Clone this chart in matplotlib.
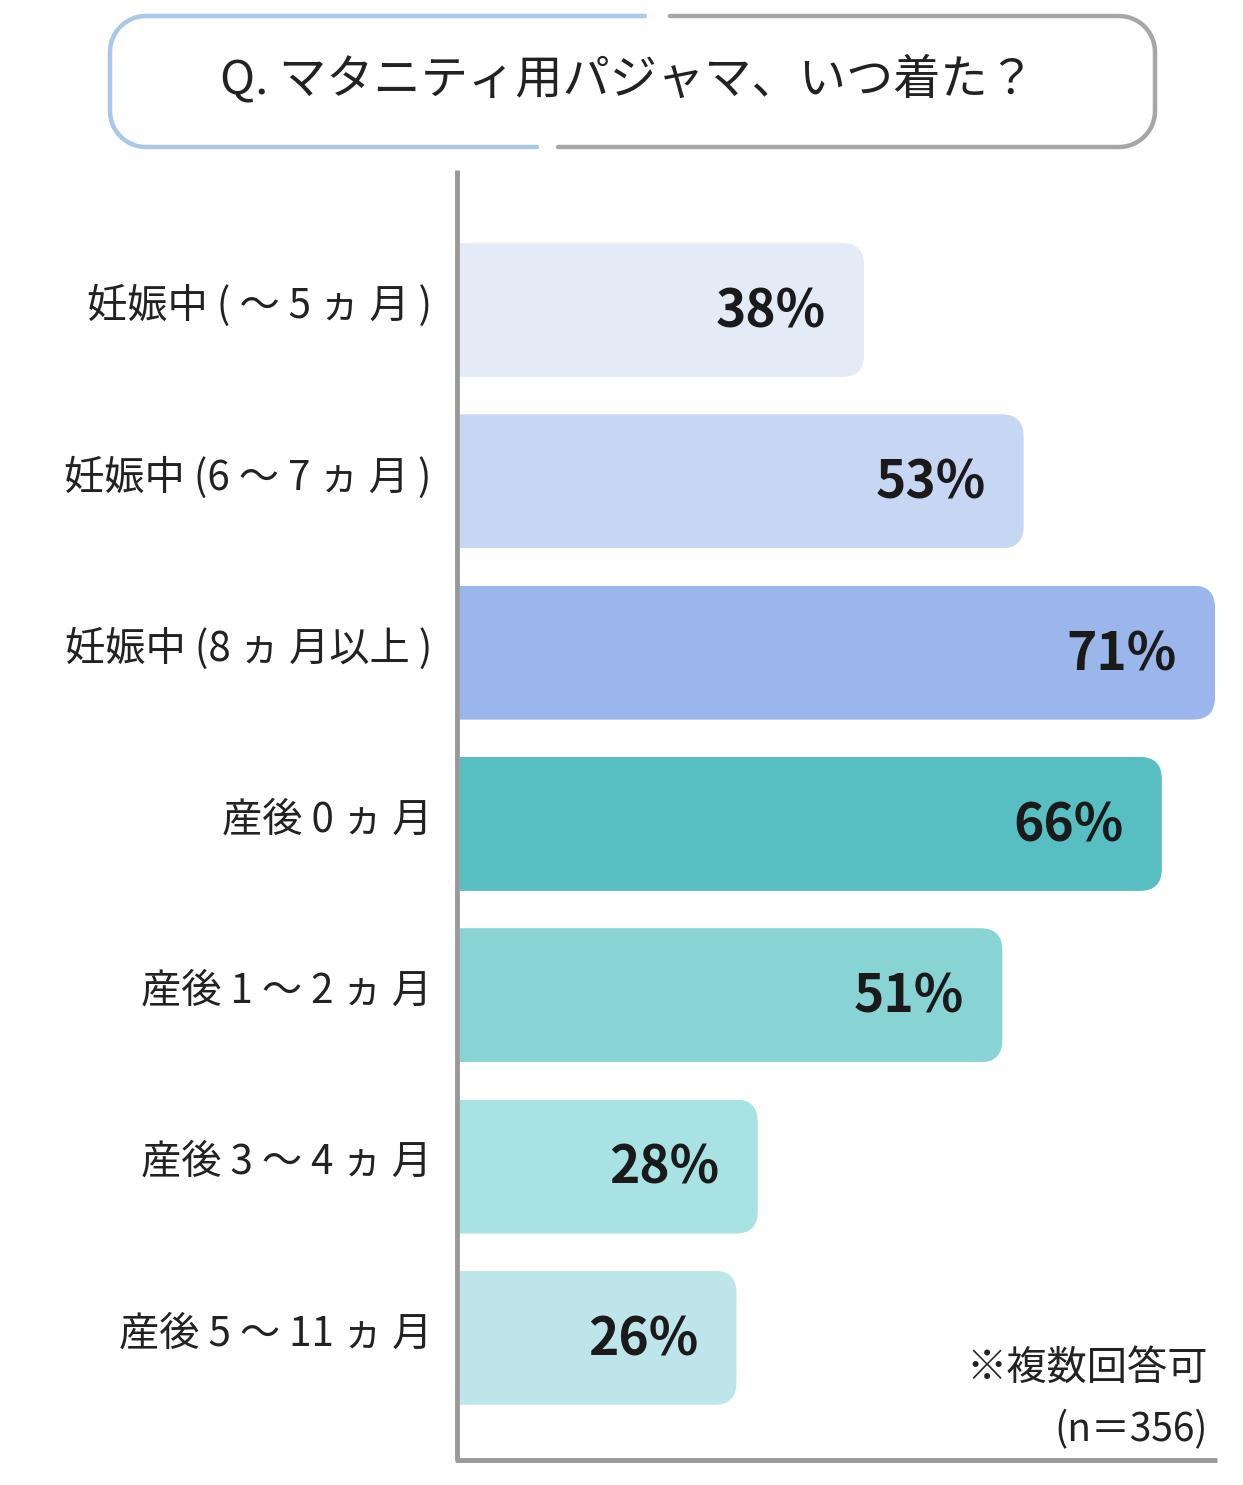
import matplotlib
matplotlib.use('Agg')
import matplotlib.pyplot as plt
import numpy as np
from matplotlib.patches import FancyBboxPatch, Rectangle

plt.rcParams['font.family'] = ['Noto Sans CJK JP', 'DejaVu Sans']

labels = ['妊娠中 ( ～ 5 ヵ 月 )', '妊娠中 (6 ～ 7 ヵ 月 )', '妊娠中 (8 ヵ 月以上 )',
          '産後 0 ヵ 月', '産後 1 ～ 2 ヵ 月', '産後 3 ～ 4 ヵ 月', '産後 5 ～ 11 ヵ 月']
values = [38, 53, 71, 66, 51, 28, 26]
colors = ['#e3ebf7', '#c6d6f3', '#9bb6ea', '#57bec2', '#88d4d4', '#a9e2e2', '#bee6ea']

W, H = 1243, 1485
fig = plt.figure(figsize=(W / 100, H / 100), dpi=100)
ax = fig.add_axes([0, 0, 1, 1])
ax.set_xlim(0, W)
ax.set_ylim(H, 0)
ax.axis('off')

x0 = 460
px_per = (1215 - x0) / 71
y_first, step, bh = 310, 171.3, 134

for i, (lab, v, c) in enumerate(zip(labels, values, colors)):
    yc = y_first + i * step
    w = v * px_per
    clip = Rectangle((x0, yc - bh / 2), w + 5, bh, transform=ax.transData)
    p = FancyBboxPatch((x0 - 40, yc - bh / 2), w + 40, bh,
                       boxstyle='round,pad=0,rounding_size=22',
                       fc=c, ec='none', zorder=2)
    ax.add_patch(p)
    p.set_clip_path(clip)
    ax.text(x0 + w - 38, yc + 2, f'{v}%', ha='right', va='center',
            fontsize=37, fontweight='bold', color='#1a1a1a', zorder=3)
    ax.text(432, yc - 4, lab, ha='right', va='center', fontsize=29, color='#222222')

# axes lines
ax.plot([457, 457], [170, 1460], color='#999999', lw=3.5, solid_capstyle='butt')
ax.plot([455, 1217], [1460, 1460], color='#999999', lw=3.5, solid_capstyle='butt')

# title box: rounded rectangle split in two colours
L, R, T, B, r = 110, 1155, 16, 147, 36
def arc(cx, cy, a0, a1, n=20):
    t = np.radians(np.linspace(a0, a1, n))
    return list(cx + r * np.cos(t)), list(cy - r * np.sin(t))
bx, by = [645, L + r], [T, T]
ax_, ay_ = arc(L + r, T + r, 90, 180); bx += ax_; by += ay_
ax_, ay_ = arc(L + r, B - r, 180, 270); bx += ax_; by += ay_
bx += [537]; by += [B]
ax.plot(bx, by, color='#a9c7e8', lw=3.2, solid_capstyle='round')
gx, gy = [670, R - r], [T, T]
ax_, ay_ = arc(R - r, T + r, 90, 0); gx += ax_; gy += ay_
ax_, ay_ = arc(R - r, B - r, 0, -90); gx += ax_; gy += ay_
gx += [558]; gy += [B]
ax.plot(gx, gy, color='#a6a6a6', lw=3.2, solid_capstyle='round')

ax.text(628, 80, 'Q. マタニティ用パジャマ、いつ着た？', ha='center', va='center',
        fontsize=34, color='#222222')

ax.text(1208, 1368, '※複数回答可', ha='right', va='center', fontsize=29, color='#222222')
ax.text(1208, 1430, '(n＝356)', ha='right', va='center', fontsize=28, color='#222222')

fig.savefig('out.png', dpi=100, facecolor='white')
